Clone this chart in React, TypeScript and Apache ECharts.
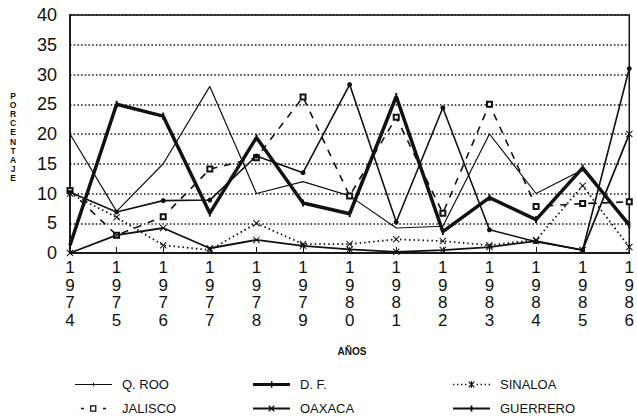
import React, { useEffect, useRef } from "react";
import * as echarts from "echarts";

const years = ["1974", "1975", "1976", "1977", "1978", "1979", "1980", "1981", "1982", "1983", "1984", "1985", "1986"];
const yTicks = [0, 5, 10, 15, 20, 25, 30, 35, 40];

const qroo = [20, 7, 15, 28, 10, 12, 9.6, 4.2, 4.5, 20, 10, 14, 5];
const df = [1.3, 25, 23, 6.7, 19.4, 8.4, 6.6, 26.3, 3.6, 9.3, 5.6, 14.3, 4.7];
const sinaloa = [10, 6, 1.3, 0.5, 5, 1.5, 1.5, 2.3, 2, 1.3, 2.2, 11.3, 1];
const jalisco = [10.5, 3, 6.1, 14.1, 16, 26.2, 9.6, 22.8, 6.7, 25, 7.8, 8.3, 8.6];
const oaxaca = [0, 3, 4.2, 0.8, 2.2, 1.2, 0.6, 0.2, 0.5, 1, 2, 0.5, 20];
const guerrero = [10.2, 6.9, 8.8, 8.9, 16.3, 13.5, 28.3, 5.2, 24.4, 3.9, 1.9, 0.5, 31];

const Y_TITLE = "PORCENTAJE";
const X_TITLE = "AÑOS";

const FONT = "'Liberation Sans', Arial, sans-serif";
const INK = "#111";
const XSYM = "path://M0,1L1,0L5,4L9,0L10,1L6,5L10,9L9,10L5,6L1,10L0,9L4,5Z";

const X_MID = "M15.2,1.6L16.1,0.7L18.5,3.1L20.9,0.7L21.8,1.6L19.4,4L21.8,6.4L20.9,7.3L18.5,4.9L16.1,7.3L15.2,6.4L17.6,4Z";
const ICONS: Record<string, string> = {
  "Q. ROO": "path://M0,3.4H37V4.6H0Z M18,2.3H19V5.7H18Z",
  "D. F.": "path://M0,2.6H37V5.4H0Z M18,0.8H19.4V7.2H18Z",
  SINALOA:
    "path://M0,3.3h1.4v1.4h-1.4Z M4,3.3h1.4v1.4h-1.4Z M8,3.3h1.4v1.4h-1.4Z M12,3.3h1.4v1.4h-1.4Z " +
    "M23.6,3.3h1.4v1.4h-1.4Z M27.6,3.3h1.4v1.4h-1.4Z M31.6,3.3h1.4v1.4h-1.4Z M35.6,3.3h1.4v1.4h-1.4Z " +
    X_MID + " M18,0.4H19V7.6H18Z",
  JALISCO: "path://M0,3.2H0.1V4.8H0Z M6,3.2H9V4.8H6Z M15,0.8H21.4V7.2H15Z M16.3,2.1V5.9H20.1V2.1Z M28,3.2H31V4.8H28Z M36.9,3.2H37V4.8H36.9Z",
  OAXACA: "path://M0,3.1H37V4.9H0Z " + X_MID,
  GUERRERO: "path://M0,2.9H37V5.1H0Z M17.6,1H19.4V7H17.6Z",
};

export default function App() {
  const ref = useRef<HTMLDivElement>(null);
  useEffect(() => {
    document.body.style.margin = "0";
    const chart = echarts.init(ref.current!, null, { renderer: "svg" });
    const legendBase = (name: string, left: number, top: number) => ({
      data: [{ name, icon: ICONS[name], itemStyle: { color: INK, borderWidth: 0 } }],
      left,
      top,
      itemWidth: 37,
      itemHeight: 8,
      padding: 0,
      textStyle: { fontFamily: FONT, fontSize: 13, color: INK, padding: [0, 0, 0, 5] },
    });
    const yTitleLetters = Y_TITLE.split("").map((ch, i) => ({
      type: "text",
      x: 13,
      y: 96 + i * 9.1,
      style: {
        text: ch,
        fontFamily: FONT,
        fontSize: 8.5,
        fontWeight: "bold",
        fill: INK,
        align: "center",
        verticalAlign: "middle",
      },
    }));
    chart.setOption({
      animation: false,
      backgroundColor: "#fff",
      grid: { left: 70, right: 4, top: 15, bottom: 166, show: true, borderColor: INK, borderWidth: 1.5 },
      xAxis: {
        type: "category",
        data: years,
        boundaryGap: false,
        axisLine: { lineStyle: { color: INK, width: 1.5 } },
        axisTick: { show: true, inside: true, length: 6, lineStyle: { color: INK } },
        axisLabel: {
          fontFamily: FONT,
          fontSize: 17,
          lineHeight: 17.5,
          color: INK,
          margin: 6,
          interval: 0,
          formatter: (v: string) => v.split("").join("\n"),
        },
      },
      yAxis: {
        type: "value",
        min: yTicks[0],
        max: yTicks[yTicks.length - 1],
        interval: 5,
        axisLine: { show: true, lineStyle: { color: INK, width: 1.5 } },
        axisTick: { show: false },
        axisLabel: { fontFamily: FONT, fontSize: 18, color: INK, margin: 13 },
        splitLine: { lineStyle: { color: INK, width: 1.6, type: [1.5, 2.2] } },
      },
      legend: [
        legendBase("Q. ROO", 75, 378),
        legendBase("D. F.", 253, 378),
        legendBase("SINALOA", 453, 378),
        legendBase("JALISCO", 75, 402),
        legendBase("OAXACA", 253, 402),
        legendBase("GUERRERO", 453, 402),
      ],
      series: [
        {
          name: "Q. ROO",
          type: "line",
          data: qroo,
          symbol: "none",
          lineStyle: { color: INK, width: 1.2 },
          itemStyle: { color: INK },
        },
        {
          name: "D. F.",
          type: "line",
          data: df,
          symbol: "rect",
          symbolSize: [2, 7],
          lineStyle: { color: INK, width: 3.5 },
          itemStyle: { color: INK },
        },
        {
          name: "SINALOA",
          type: "line",
          data: sinaloa,
          symbol: XSYM,
          symbolSize: 7,
          lineStyle: { color: INK, width: 1.8, type: [1.5, 3] },
          itemStyle: { color: INK },
        },
        {
          name: "JALISCO",
          type: "line",
          data: jalisco,
          symbol: "emptyRect",
          symbolSize: 5,
          lineStyle: { color: INK, width: 1.6, type: [7, 7] },
          itemStyle: { color: INK, borderWidth: 1.1 },
        },
        {
          name: "OAXACA",
          type: "line",
          data: oaxaca,
          symbol: XSYM,
          symbolSize: 7,
          lineStyle: { color: INK, width: 1.8 },
          itemStyle: { color: INK },
        },
        {
          name: "GUERRERO",
          type: "line",
          data: guerrero,
          symbol: "circle",
          symbolSize: 5,
          lineStyle: { color: INK, width: 1.6 },
          itemStyle: { color: INK },
        },
      ],
      graphic: [
        ...yTitleLetters,
        {
          type: "text",
          x: 352,
          y: 346,
          style: {
            text: X_TITLE,
            fontFamily: FONT,
            fontSize: 10,
            fontWeight: "bold",
            fill: INK,
            align: "center",
          },
        },
      ],
    });
    return () => chart.dispose();
  }, []);
  return <div ref={ref} style={{ position: "fixed", left: 0, top: 0, width: 637, height: 419 }} />;
}
